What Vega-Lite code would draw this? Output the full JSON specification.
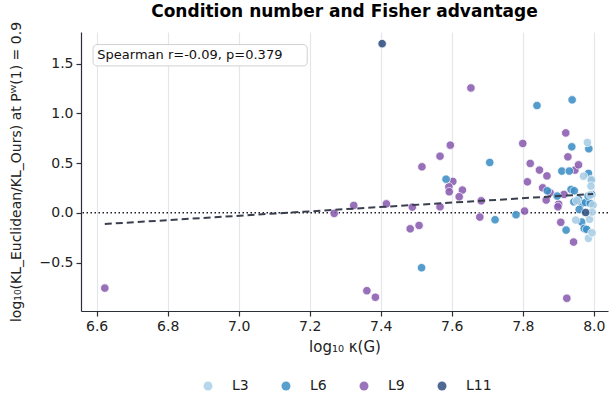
{
  "$schema": "https://vega.github.io/schema/vega-lite/v6.json",
  "width": 527,
  "height": 279,
  "autosize": {"type": "none"},
  "padding": {"left": 81, "top": 32, "right": 8, "bottom": 87},
  "background": "white",
  "title": {"text": "Condition number and Fisher advantage", "font": "DejaVu Sans", "fontSize": 17, "fontWeight": "bold", "anchor": "middle", "frame": "group", "offset": 0, "color": "black"},
  "config": {
    "font": "DejaVu Sans",
    "view": {"stroke": null},
    "axis": {
      "domainColor": "#2b2f3a", "domainWidth": 1.2,
      "tickColor": "#2b2f3a", "tickSize": 5, "tickWidth": 1.2,
      "gridColor": "#e4e6ee", "gridWidth": 1.2,
      "labelFont": "DejaVu Sans", "labelFontSize": 14, "labelColor": "#222222", "labelPadding": 3,
      "titleFont": "DejaVu Sans", "titleFontSize": 14, "titleFontWeight": "normal", "titleColor": "#222222"
    },
    "legend": {"padding": 0}
  },
  "datasets": {
    "points": [
      {"kappa": 7.361, "adv": -0.783, "layer": "L9"},
      {"kappa": 6.623, "adv": -0.757, "layer": "L9"},
      {"kappa": 7.385, "adv": -0.849, "layer": "L9"},
      {"kappa": 7.269, "adv": -0.006, "layer": "L9"},
      {"kappa": 7.324, "adv": 0.074, "layer": "L9"},
      {"kappa": 7.416, "adv": 0.090, "layer": "L9"},
      {"kappa": 7.489, "adv": 0.057, "layer": "L9"},
      {"kappa": 7.483, "adv": -0.161, "layer": "L9"},
      {"kappa": 7.508, "adv": -0.127, "layer": "L9"},
      {"kappa": 7.567, "adv": 0.060, "layer": "L9"},
      {"kappa": 7.516, "adv": 0.462, "layer": "L9"},
      {"kappa": 7.567, "adv": 0.569, "layer": "L9"},
      {"kappa": 7.596, "adv": 0.680, "layer": "L9"},
      {"kappa": 7.603, "adv": 0.315, "layer": "L9"},
      {"kappa": 7.592, "adv": 0.261, "layer": "L9"},
      {"kappa": 7.593, "adv": 0.211, "layer": "L9"},
      {"kappa": 7.630, "adv": 0.228, "layer": "L9"},
      {"kappa": 7.621, "adv": 0.161, "layer": "L9"},
      {"kappa": 7.683, "adv": 0.120, "layer": "L9"},
      {"kappa": 7.679, "adv": -0.043, "layer": "L9"},
      {"kappa": 7.654, "adv": 1.255, "layer": "L9"},
      {"kappa": 7.805, "adv": 0.017, "layer": "L9"},
      {"kappa": 7.813, "adv": 0.311, "layer": "L9"},
      {"kappa": 7.821, "adv": 0.496, "layer": "L9"},
      {"kappa": 7.800, "adv": 0.697, "layer": "L9"},
      {"kappa": 7.847, "adv": 0.429, "layer": "L9"},
      {"kappa": 7.868, "adv": 0.371, "layer": "L9"},
      {"kappa": 7.856, "adv": 0.251, "layer": "L9"},
      {"kappa": 7.877, "adv": 0.201, "layer": "L9"},
      {"kappa": 7.866, "adv": 0.128, "layer": "L9"},
      {"kappa": 7.901, "adv": 0.087, "layer": "L9"},
      {"kappa": 7.899, "adv": 0.060, "layer": "L9"},
      {"kappa": 7.916, "adv": 0.185, "layer": "L9"},
      {"kappa": 7.927, "adv": 0.562, "layer": "L9"},
      {"kappa": 7.921, "adv": 0.803, "layer": "L9"},
      {"kappa": 7.947, "adv": 0.429, "layer": "L9"},
      {"kappa": 7.957, "adv": 0.482, "layer": "L9"},
      {"kappa": 7.907, "adv": -0.096, "layer": "L9"},
      {"kappa": 7.943, "adv": -0.294, "layer": "L9"},
      {"kappa": 7.924, "adv": -0.859, "layer": "L9"},
      {"kappa": 7.515, "adv": -0.552, "layer": "L6"},
      {"kappa": 7.584, "adv": 0.338, "layer": "L6"},
      {"kappa": 7.707, "adv": 0.506, "layer": "L6"},
      {"kappa": 7.722, "adv": -0.070, "layer": "L6"},
      {"kappa": 7.781, "adv": -0.020, "layer": "L6"},
      {"kappa": 7.840, "adv": 1.078, "layer": "L6"},
      {"kappa": 7.939, "adv": 1.135, "layer": "L6"},
      {"kappa": 7.938, "adv": 0.663, "layer": "L6"},
      {"kappa": 7.986, "adv": 0.643, "layer": "L6"},
      {"kappa": 7.910, "adv": 0.419, "layer": "L6"},
      {"kappa": 7.931, "adv": 0.419, "layer": "L6"},
      {"kappa": 7.985, "adv": 0.396, "layer": "L6"},
      {"kappa": 7.993, "adv": 0.335, "layer": "L6"},
      {"kappa": 7.869, "adv": 0.221, "layer": "L6"},
      {"kappa": 7.897, "adv": 0.168, "layer": "L6"},
      {"kappa": 7.936, "adv": 0.235, "layer": "L6"},
      {"kappa": 7.945, "adv": 0.221, "layer": "L6"},
      {"kappa": 7.957, "adv": 0.135, "layer": "L6"},
      {"kappa": 7.966, "adv": 0.094, "layer": "L6"},
      {"kappa": 7.977, "adv": 0.104, "layer": "L6"},
      {"kappa": 7.994, "adv": 0.185, "layer": "L6"},
      {"kappa": 7.959, "adv": 0.034, "layer": "L6"},
      {"kappa": 7.966, "adv": -0.093, "layer": "L6"},
      {"kappa": 7.973, "adv": -0.157, "layer": "L6"},
      {"kappa": 7.980, "adv": -0.167, "layer": "L6"},
      {"kappa": 7.922, "adv": -0.174, "layer": "L6"},
      {"kappa": 7.944, "adv": 0.110, "layer": "L6"},
      {"kappa": 7.990, "adv": 0.097, "layer": "L6"},
      {"kappa": 7.984, "adv": 0.168, "layer": "L6"},
      {"kappa": 7.982, "adv": 0.707, "layer": "L3"},
      {"kappa": 7.971, "adv": 0.368, "layer": "L3"},
      {"kappa": 7.993, "adv": 0.328, "layer": "L3"},
      {"kappa": 7.992, "adv": 0.268, "layer": "L3"},
      {"kappa": 7.952, "adv": 0.120, "layer": "L3"},
      {"kappa": 7.949, "adv": -0.073, "layer": "L3"},
      {"kappa": 7.988, "adv": -0.066, "layer": "L3"},
      {"kappa": 7.985, "adv": -0.257, "layer": "L3"},
      {"kappa": 7.995, "adv": -0.201, "layer": "L3"},
      {"kappa": 7.990, "adv": 0.178, "layer": "L3"},
      {"kappa": 7.998, "adv": 0.077, "layer": "L3"},
      {"kappa": 7.995, "adv": 0.007, "layer": "L3"},
      {"kappa": 7.404, "adv": 1.700, "layer": "L11"},
      {"kappa": 7.977, "adv": 0.003, "layer": "L11"}
    ],
    "trend": [
      {"kappa": 6.623, "adv": -0.113},
      {"kappa": 7.998, "adv": 0.190}
    ],
    "note": [
      {"label": "Spearman r=-0.09, p=0.379"}
    ]
  },
  "layer": [
    {
      "data": {"name": "note"},
      "mark": {"type": "rule", "strokeDash": [1.5, 2.5], "color": "#1e1e2a", "strokeWidth": 1.6},
      "encoding": {"y": {"datum": 0}}
    },
    {
      "data": {"name": "points"},
      "mark": {"type": "circle", "size": 72, "opacity": 0.88, "stroke": "white", "strokeWidth": 0.8},
      "encoding": {
        "x": {"field": "kappa", "type": "quantitative", "scale": {"domain": [6.556, 8.04], "nice": false, "zero": false}, "axis": {"values": [6.6, 6.8, 7.0, 7.2, 7.4, 7.6, 7.8, 8.0], "format": ".1f", "title": "log₁₀ κ(G)", "titleFontSize": 15, "titlePadding": 6}},
        "y": {"field": "adv", "type": "quantitative", "scale": {"domain": [-0.987, 1.817], "nice": false, "zero": false}, "axis": {"values": [-0.5, 0, 0.5, 1.0, 1.5], "format": ".1f", "title": "log₁₀(KL_Euclidean/KL_Ours) at Pᵂ(1) = 0.9", "titlePadding": 16}},
        "color": {"field": "layer", "type": "nominal", "scale": {"domain": ["L3", "L6", "L9", "L11"], "range": ["#a9cfe5", "#3d8fc6", "#8a5cb0", "#2f4f80"]},
          "legend": {"title": null, "orient": "none", "direction": "horizontal", "legendX": 120, "legendY": 347, "symbolType": "circle", "symbolSize": 80, "symbolOpacity": 0.85, "symbolStrokeWidth": 0, "labelFontSize": 14, "labelFont": "DejaVu Sans", "labelColor": "#222222", "labelOffset": 17, "columnPadding": 30}}
      }
    },
    {
      "data": {"name": "trend"},
      "mark": {"type": "line", "color": "#3a3f4e", "strokeDash": [7, 4], "strokeWidth": 2},
      "encoding": {
        "x": {"field": "kappa", "type": "quantitative"},
        "y": {"field": "adv", "type": "quantitative"}
      }
    },
    {
      "data": {"name": "note"},
      "mark": {"type": "rect", "fill": "white", "stroke": "#cfcfcf", "strokeWidth": 1, "cornerRadius": 4, "opacity": 0.95},
      "encoding": {
        "x": {"datum": 6.590},
        "x2": {"datum": 7.193},
        "y": {"datum": 1.691},
        "y2": {"datum": 1.476}
      }
    },
    {
      "data": {"name": "note"},
      "mark": {"type": "text", "align": "left", "baseline": "middle", "fontSize": 13, "font": "DejaVu Sans", "color": "#111111"},
      "encoding": {
        "x": {"datum": 6.602},
        "y": {"datum": 1.583},
        "text": {"field": "label"}
      }
    }
  ]
}
